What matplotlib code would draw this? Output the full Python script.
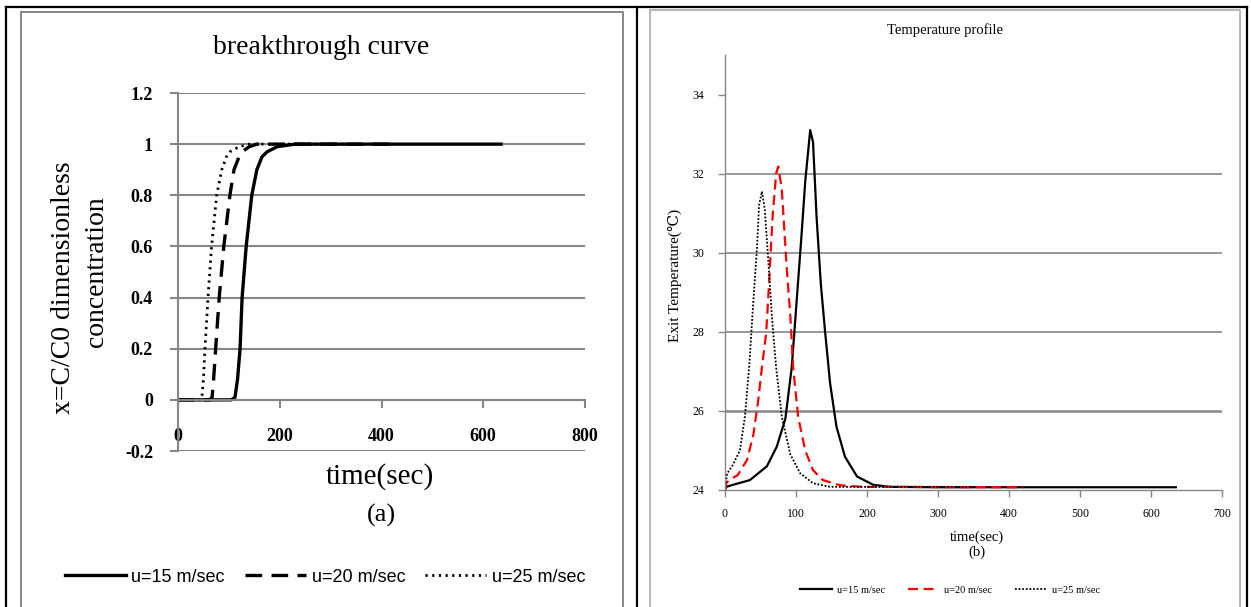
"""
Breakthrough curve and exit temperature profile, side by side.
"""

import matplotlib
matplotlib.use("Agg")
import matplotlib.pyplot as plt
from matplotlib.lines import Line2D

W, H = 1251, 607

# (a) breakthrough curve, x = C/C0
time_15 = [0, 105, 112, 117, 122, 126, 134, 145, 155, 165, 175, 195, 230, 300, 635]
conc_15 = [0, 0, 0.01, 0.08, 0.2, 0.4, 0.6, 0.8, 0.9, 0.95, 0.97, 0.99, 1.0, 1.0, 1.0]
time_20 = [0, 62, 67, 70, 74, 81, 90, 102, 110, 120, 126, 140, 155, 200, 420]
conc_20 = [0, 0, 0.01, 0.08, 0.2, 0.4, 0.6, 0.8, 0.9, 0.95, 0.97, 0.99, 1.0, 1.0, 1.0]
time_25 = [0, 43, 47, 50, 53, 59, 66, 76, 86, 95, 102, 120, 141, 200, 330]
conc_25 = [0, 0, 0.01, 0.08, 0.2, 0.4, 0.6, 0.8, 0.9, 0.95, 0.97, 0.99, 1.0, 1.0, 1.0]

# (b) exit temperature, deg C
ttime_15 = [0, 2, 11, 35, 59, 73, 85, 94, 101, 108, 113, 120, 124, 129, 135,
            141, 148, 157, 169, 186, 209, 232, 300, 635]
temp_15 = [24.0, 24.08, 24.13, 24.25, 24.6, 25.1, 25.8, 27.1, 28.8, 30.5, 31.8,
           33.1, 32.8, 30.9, 29.2, 28.0, 26.7, 25.6, 24.84, 24.34, 24.13, 24.08,
           24.07, 24.07]
ttime_20 = [0, 2, 6, 18, 31, 40, 47, 52, 58, 62, 67, 72, 75, 80, 87, 92, 96,
            103, 113, 124, 138, 162, 195, 420]
temp_20 = [24.0, 24.18, 24.25, 24.38, 24.76, 25.4, 26.3, 27.1, 27.97, 29.2,
           30.9, 32.0, 32.18, 31.6, 29.6, 28.4, 27.1, 25.85, 25.0, 24.5, 24.25,
           24.12, 24.08, 24.07]
ttime_25 = [0, 3, 10, 21, 28, 34, 40, 45, 48, 52, 56, 61, 66, 72, 80, 92, 106,
            124, 148, 350]
temp_25 = [24.0, 24.42, 24.6, 25.0, 25.85, 27.1, 28.8, 30.1, 31.2, 31.55, 31.1,
           29.8, 28.4, 27.1, 25.85, 24.9, 24.42, 24.17, 24.08, 24.07]

labels_a = ["u=15 m/sec", "u=20 m/sec", "u=25 m/sec"]
labels_b = ["u=15 m/sec", "u=20 m/sec", "u=25 m/sec"]

SERIF = ["Liberation Serif", "DejaVu Serif"]
SANS = ["Liberation Sans", "DejaVu Sans"]
GRID = "#868686"


def fx(x):
    return x / W


def fy(y):
    return 1 - y / H


def ax_rect(left, top, right, bottom):
    return [fx(left), fy(bottom), fx(right) - fx(left), fy(top) - fy(bottom)]


def fig_line(fig, xs, ys, color, lw):
    fig.add_artist(Line2D([fx(x) for x in xs], [fy(y) for y in ys],
                          color=color, linewidth=lw,
                          transform=fig.transFigure))


fig = plt.figure(figsize=(W / 100, H / 100), dpi=100)

# table borders and chart frames
fig_line(fig, [6, 1247], [7, 7], "black", 1.6)
for x in (6, 637, 1247):
    fig_line(fig, [x, x], [7, H], "black", 1.6)
fig_line(fig, [21, 623, 623], [12, 12, H], GRID, 1.4)
fig_line(fig, [21, 21], [12, H], GRID, 1.4)
fig_line(fig, [650, 1240, 1240], [10, 10, H], "#aaaaaa", 1.2)
fig_line(fig, [650, 650], [10, H], "#aaaaaa", 1.2)

# ---- (a) breakthrough curve
ax = fig.add_axes(ax_rect(178, 93, 585, 451))
ax.plot(time_15, conc_15, color="black", linewidth=2.4, label=labels_a[0])
ax.plot(time_20, conc_20, color="black", linewidth=2.4, dashes=(5, 2.8),
        label=labels_a[1])
ax.plot(time_25, conc_25, color="black", linewidth=2.0,
        linestyle=(0, (0.8, 1.6)), label=labels_a[2])
ax.set_xlim(0, 800)
ax.set_ylim(-0.2, 1.2)
ax.set_xticks([0, 200, 400, 600, 800])
ax.set_yticks([-0.2, 0, 0.2, 0.4, 0.6, 0.8, 1, 1.2])
ax.set_yticklabels(["-0.2", "0", "0.2", "0.4", "0.6", "0.8", "1", "1.2"])
ax.spines["top"].set_visible(False)
ax.spines["right"].set_visible(False)
ax.spines["bottom"].set_position(("data", 0))
for side in ("left", "bottom"):
    ax.spines[side].set_color(GRID)
    ax.spines[side].set_linewidth(1.5)
ax.set_axisbelow(True)
ax.yaxis.grid(True, color=GRID, linewidth=1.5)
ax.tick_params(axis="both", color=GRID, width=1.5, length=6)
ax.tick_params(axis="x", pad=14)
ax.tick_params(axis="y", pad=12)
for lab in ax.get_xticklabels() + ax.get_yticklabels():
    lab.set_family(SERIF)
    lab.set_fontsize(13)
    lab.set_fontweight("bold")

fig.text(fx(321), fy(48), "breakthrough curve", ha="center", va="center",
         family=SERIF, fontsize=20)
fig.text(fx(63), fy(288), "x=C/C0 dimensionless", rotation=90, ha="center",
         va="center", family=SERIF, fontsize=20)
fig.text(fx(97), fy(272), "concentration", rotation=90, ha="center",
         va="center", family=SERIF, fontsize=20)
fig.text(fx(380), fy(477), "time(sec)", ha="center", va="center",
         family=SERIF, fontsize=21)
fig.text(fx(381), fy(515), "(a)", ha="center", va="center",
         family=SERIF, fontsize=19)
h, l = ax.get_legend_handles_labels()
fig.legend(h, l, loc="center", bbox_to_anchor=(fx(325), fy(577)), ncol=3,
           frameon=False, prop={"family": SANS, "size": 13},
           handlelength=3.4, handletextpad=0.3, columnspacing=1.1)

# ---- (b) temperature profile
bx = fig.add_axes(ax_rect(725, 55, 1222, 490))
bx.plot(ttime_15, temp_15, color="black", linewidth=1.6, label=labels_b[0])
bx.plot(ttime_20, temp_20, color="red", linewidth=1.6, dashes=(4.5, 2.5),
        label=labels_b[1])
bx.plot(ttime_25, temp_25, color="black", linewidth=1.3,
        linestyle=(0, (1, 1)), label=labels_b[2])
bx.set_xlim(0, 700)
bx.set_ylim(24, 35)
bx.set_xticks(range(0, 701, 100))
bx.set_yticks(range(24, 35, 2))
bx.spines["top"].set_visible(False)
bx.spines["right"].set_visible(False)
for side in ("left", "bottom"):
    bx.spines[side].set_color(GRID)
    bx.spines[side].set_linewidth(1.0)
bx.set_axisbelow(True)
bx.yaxis.grid(True, color=GRID, linewidth=1.2)
gl = bx.get_ygridlines()
gl[0].set_visible(False)
gl[-1].set_visible(False)
gl[1].set_linewidth(1.8)
bx.tick_params(axis="both", color=GRID, width=1.0, length=5)
bx.tick_params(axis="x", pad=8)
bx.tick_params(axis="y", pad=10)
for lab in bx.get_xticklabels() + bx.get_yticklabels():
    lab.set_family(SERIF)
    lab.set_fontsize(8.5)

fig.text(fx(945), fy(30), "Temperature profile", ha="center", va="center",
         family=SERIF, fontsize=10.5)
fig.text(fx(675), fy(275), "Exit Temperature(\u2103)", rotation=90,
         ha="center", va="center", family=SERIF, fontsize=11)
fig.text(fx(977), fy(537), "time(sec)", ha="center", va="center",
         family=SERIF, fontsize=10.5)
fig.text(fx(977), fy(552), "(b)", ha="center", va="center",
         family=SERIF, fontsize=10.5)
h, l = bx.get_legend_handles_labels()
fig.legend(h, l, loc="center", bbox_to_anchor=(fx(950), fy(590)), ncol=3,
           frameon=False, prop={"family": SERIF, "size": 7.5},
           handlelength=3.0, handletextpad=0.5, columnspacing=2.2)

fig.savefig("out.png", dpi=100)
